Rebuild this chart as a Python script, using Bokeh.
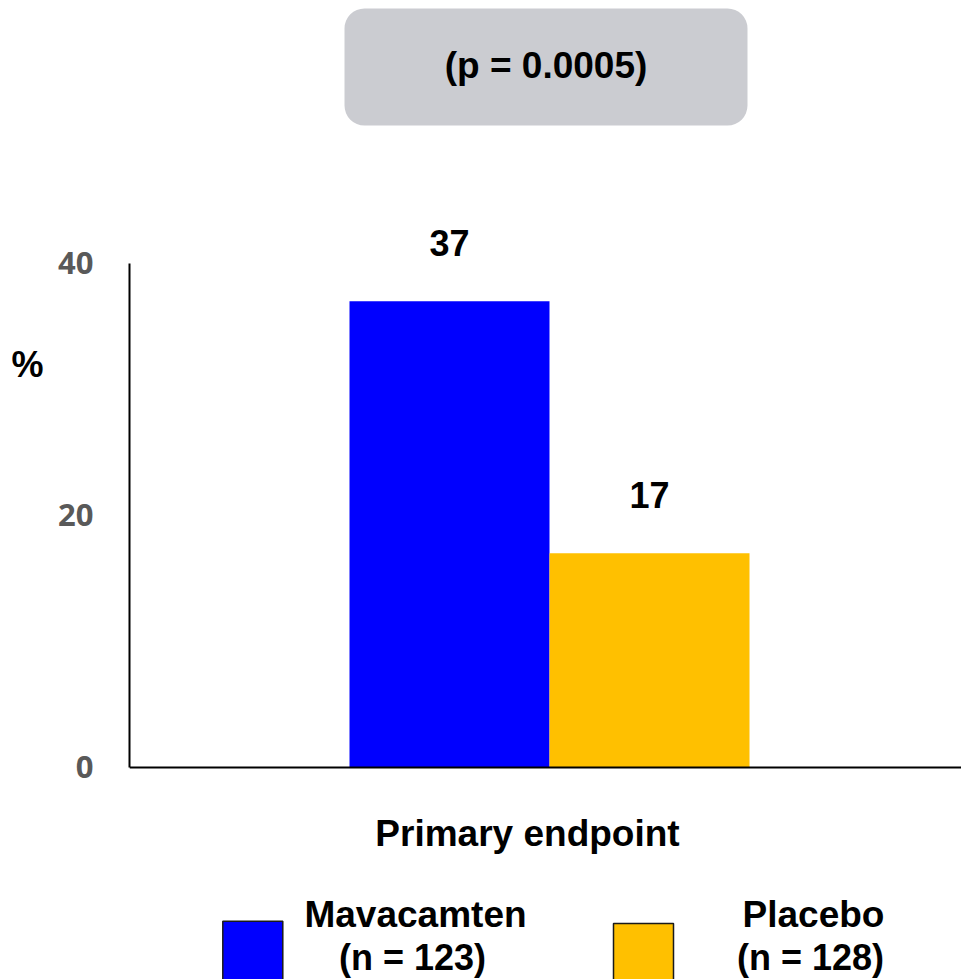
from bokeh.plotting import figure
from bokeh.models import Range1d, BoxAnnotation, FixedTicker, ColumnDataSource, LinearAxis
from bokeh.core.properties import value
from bokeh.embed import file_html
from bokeh.resources import INLINE

# ---- data ----
groups = ["Mavacamten", "Placebo"]
group_n = ["(n = 123)", "(n = 128)"]
percent = [37, 17]
colors = ["#0000FF", "#FFC000"]
y_ticks = [0, 20, 40]
p_value_text = "(p = 0.0005)"
category = "Primary endpoint"
y_unit = "%"

FONT = value("Liberation Sans")

W, H = 961, 979
p = figure(width=W, height=H, output_backend="svg", toolbar_location=None,
           x_range=Range1d(-2.1, 2.06), y_range=Range1d(-16.83, 60.87),
           min_border_left=129, min_border_right=0, min_border_top=0,
           min_border_bottom=0)
p.outline_line_color = None
p.xgrid.visible = False
p.ygrid.visible = False
p.background_fill_color = "white"
p.border_fill_color = "white"

# y axis
p.yaxis.bounds = (0, 40)
p.yaxis.ticker = FixedTicker(ticks=y_ticks)
p.yaxis.minor_tick_line_color = None
p.yaxis.major_tick_line_color = None
p.yaxis.major_tick_out = 0
p.yaxis.major_tick_in = 0
p.yaxis.major_label_standoff = 36
p.yaxis.major_label_text_font = "Open Sans"
p.yaxis.major_label_text_font_style = "bold"
p.yaxis.major_label_text_font_size = "31px"
p.yaxis.major_label_text_color = "#595959"
p.yaxis.axis_line_color = "black"
p.yaxis.axis_line_width = 2

# unit label ("%") shown as the single tick label of a second, line-less axis
unit_tick = 32
unit_axis = LinearAxis(bounds=(0, 40), ticker=FixedTicker(ticks=[unit_tick]),
                       major_label_overrides={unit_tick: y_unit},
                       axis_line_color=None, major_tick_line_color=None,
                       minor_tick_line_color=None, major_tick_out=0, major_tick_in=0,
                       major_label_standoff=12,
                       major_label_text_font="Liberation Sans",
                       major_label_text_font_style="bold",
                       major_label_text_font_size="36px",
                       major_label_text_color="black")
p.add_layout(unit_axis, "left")

# x axis at y = 0
p.xaxis.fixed_location = 0
p.xaxis.ticker = FixedTicker(ticks=[])
p.xaxis.minor_tick_line_color = None
p.xaxis.major_tick_line_color = None
p.xaxis.major_tick_out = 0
p.xaxis.major_tick_in = 0
p.xaxis.major_label_standoff = 0
p.xaxis.axis_line_color = "black"
p.xaxis.axis_line_width = 2

# p-value box (under the glyphs)
p.add_layout(BoxAnnotation(left=-1.025, right=0.99, bottom=50.95, top=60.24,
                           fill_color="#cbccd1", fill_alpha=1.0, line_color=None,
                           border_radius=20, level="underlay"))

# bars
xs = [i - 0.5 for i in range(len(groups))]
src = ColumnDataSource(dict(x=xs, top=percent, color=colors,
                            label=[str(v) for v in percent],
                            ly=[v + 4.65 for v in percent]))
p.vbar(x="x", top="top", width=1.0, bottom=0, color="color", line_color=None, source=src)
p.text(x="x", y="ly", text="label", source=src, text_align="center",
       text_baseline="middle", text_font=FONT, text_font_style="bold",
       text_font_size="36px", text_color="black")

p.text(x=[-0.0175], y=[55.71], text=[p_value_text], text_align="center",
       text_baseline="middle", text_font=FONT, text_font_style="bold",
       text_font_size="37px", text_color="black")

# category label
p.text(x=[-0.11], y=[-5.24], text=[category], text_align="center",
       text_baseline="middle", text_font=FONT, text_font_style="bold",
       text_font_size="37px", text_color="black")

# legend
sq_left = [-1.6335, 0.32]
sq_top = [-12.2, -12.38]
txt_x = [-0.67, 1.32]
leg = ColumnDataSource(dict(
    left=sq_left, right=[v + 0.3 for v in sq_left],
    top=sq_top, bottom=[v - 4.7 for v in sq_top], color=colors,
    tx=txt_x, tx2=[v - 0.015 for v in txt_x], name=groups, n=group_n,
    y1=[-11.67] * 2, y2=[-15.08] * 2))
p.quad(left="left", right="right", top="top", bottom="bottom", fill_color="color",
       line_color="#1a1a1a", line_width=1.5, source=leg)
p.text(x="tx", y="y1", text="name", source=leg, text_align="center",
       text_baseline="middle", text_font=FONT, text_font_style="bold",
       text_font_size="37px", text_color="black")
p.text(x="tx2", y="y2", text="n", source=leg, text_align="center",
       text_baseline="middle", text_font=FONT, text_font_style="bold",
       text_font_size="36px", text_color="black")

open("out.html", "w").write(file_html(p, INLINE))
